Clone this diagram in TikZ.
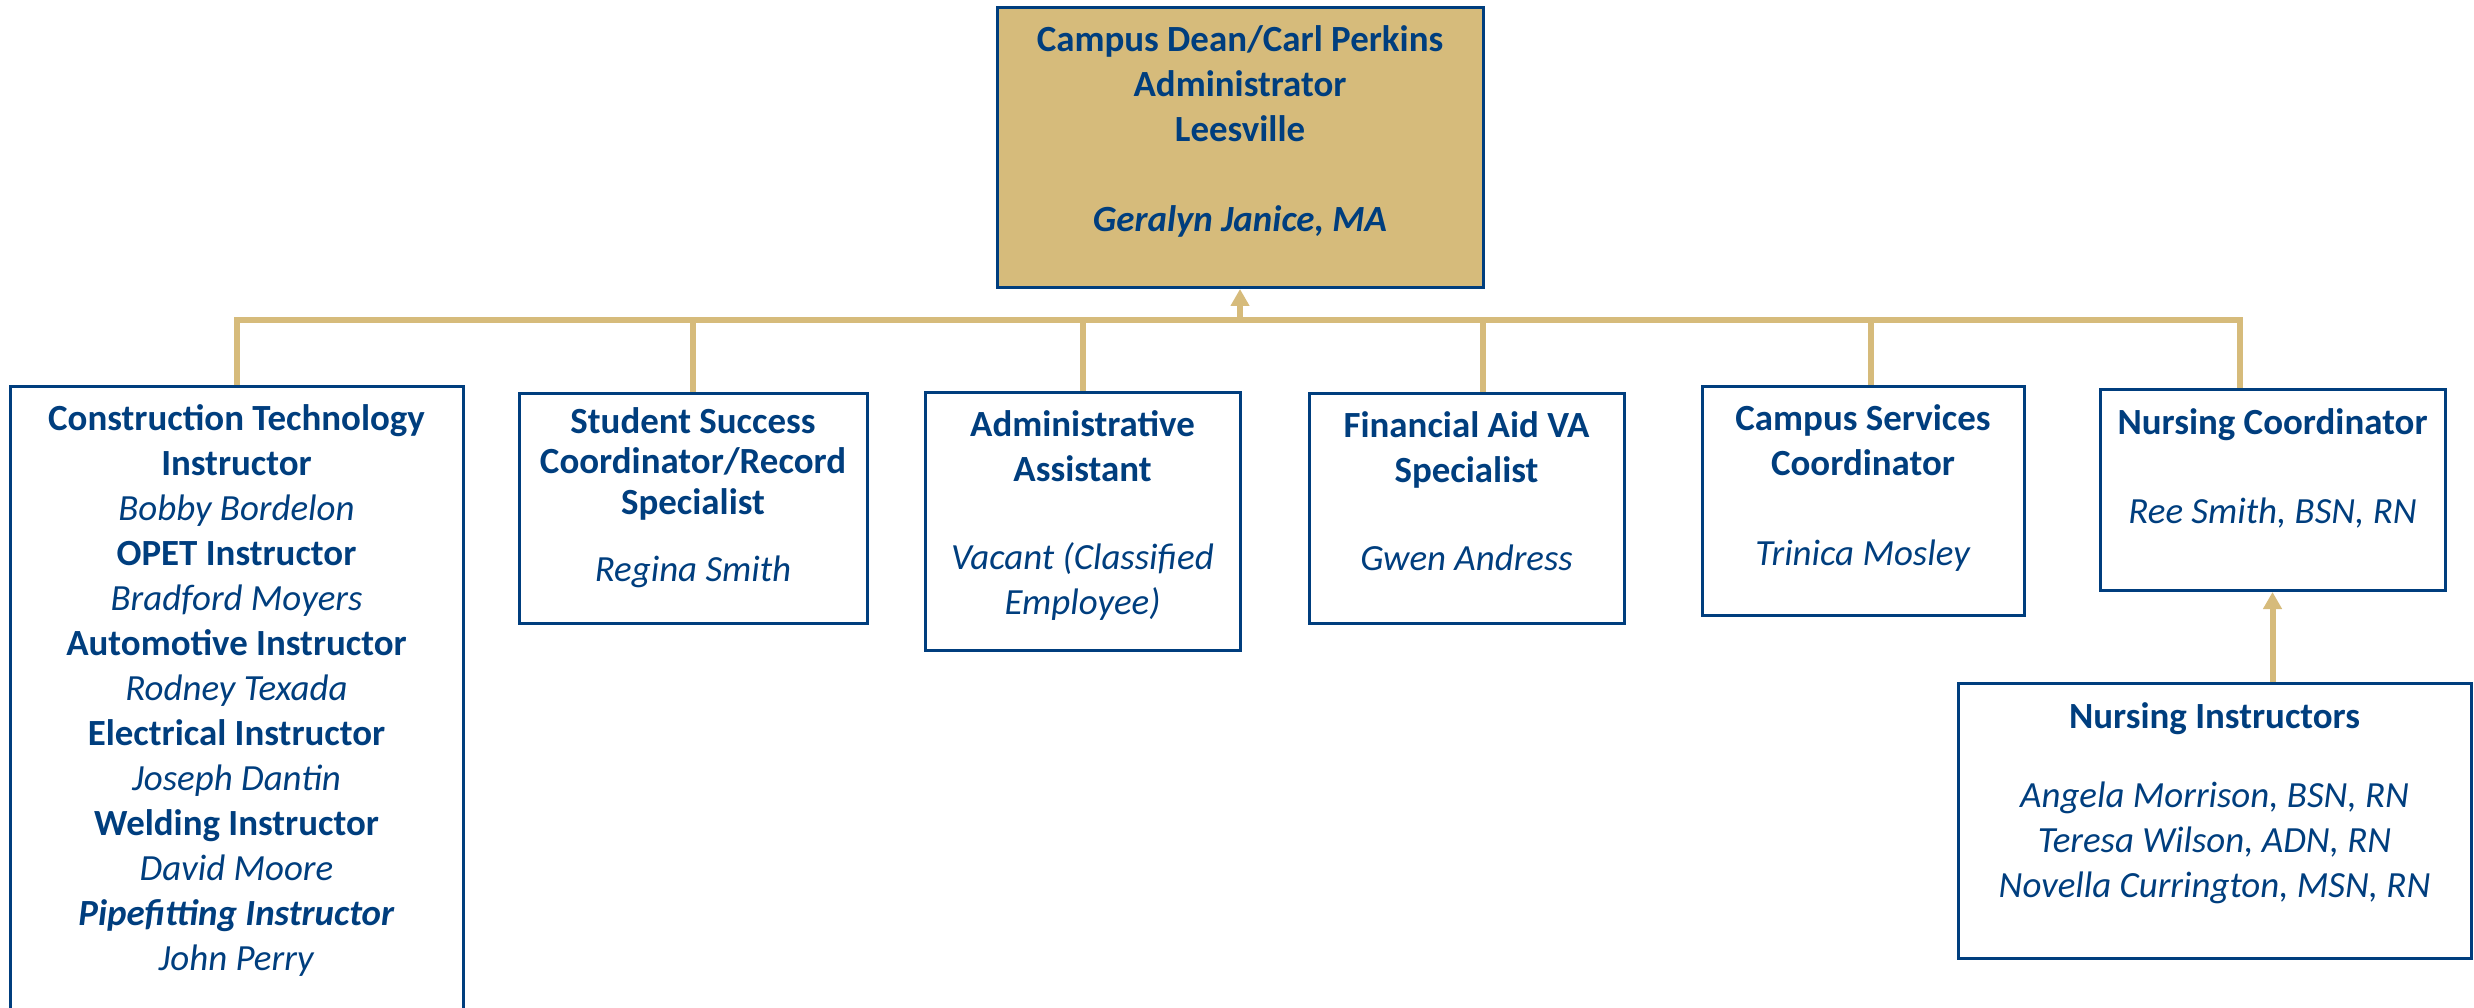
\documentclass[tikz,border=0pt]{standalone}
\usepackage{fontspec}
\setmainfont{Carlito}
\usetikzlibrary{arrows.meta}

\definecolor{navy}{RGB}{0,62,126}
\definecolor{gold}{RGB}{214,187,123}

\newcommand{\jobtitle}[1]{\textbf{#1}}
\newcommand{\person}[1]{\textit{#1}}

\tikzset{
  unit/.style={draw=navy, line width=0.03cm, text=navy, align=center, inner sep=0pt, anchor=north,
               font=\fontsize{10.5}{12.8}\selectfont},
  link/.style={draw=gold, line width=0.06cm},
  up/.style={link, -{Triangle[width=0.18cm,length=0.17cm]}},
}

\begin{document}
\begin{tikzpicture}
 \useasboundingbox (0,0) rectangle (24.74,-10.08);

 % dean on top
 \node[unit, fill=gold, minimum width=4.86cm, text height=2.24cm, text depth=0.56cm, name=dean] at (12.40,-0.06)
   {\jobtitle{Campus Dean/Carl Perkins}\\ \jobtitle{Administrator}\\ \jobtitle{Leesville}\\[12.8pt] \textbf{\textit{Geralyn Janice, MA}}};

 % second row
 \node[unit, minimum width=4.53cm, text height=5.84cm, text depth=0.73cm, name=ct] at (2.365,-3.85)
   {\jobtitle{Construction Technology}\\ \jobtitle{Instructor}\\ \person{Bobby Bordelon}\\
    \jobtitle{OPET Instructor}\\ \person{Bradford Moyers}\\ \jobtitle{Automotive Instructor}\\ \person{Rodney Texada}\\
    \jobtitle{Electrical Instructor}\\ \person{Joseph Dantin}\\ \jobtitle{Welding Instructor}\\ \person{David Moore}\\
    \textbf{\textit{Pipefitting Instructor}}\\ \person{John Perry}};
 \node[unit, minimum width=3.48cm, text height=1.88cm, text depth=0.42cm, name=ss,
       font=\fontsize{10.5}{11.6}\selectfont] at (6.93,-3.92)
   {\jobtitle{Student Success}\\ \jobtitle{Coordinator/Record}\\ \jobtitle{Specialist}\\[7.4pt] \person{Regina Smith}};
 \node[unit, minimum width=3.15cm, text height=2.22cm, text depth=0.36cm, name=aa] at (10.825,-3.91)
   {\jobtitle{Administrative}\\ \jobtitle{Assistant}\\[12.2pt] \person{Vacant (Classified}\\ \person{Employee)}};
 \node[unit, minimum width=3.15cm, text height=1.77cm, text depth=0.53cm, name=fa] at (14.665,-3.92)
   {\jobtitle{Financial Aid VA}\\ \jobtitle{Specialist}\\[12.2pt] \person{Gwen Andress}};
 \node[unit, minimum width=3.22cm, text height=1.79cm, text depth=0.50cm, name=cs] at (18.63,-3.85)
   {\jobtitle{Campus Services}\\ \jobtitle{Coordinator}\\[12.8pt] \person{Trinica Mosley}};
 \node[unit, minimum width=3.45cm, text height=1.34cm, text depth=0.67cm, name=nc] at (22.725,-3.88)
   {\jobtitle{Nursing Coordinator}\\[12.5pt] \person{Ree Smith, BSN, RN}};

 % under the nursing coordinator
 \node[unit, minimum width=5.13cm, text height=2.14cm, text depth=0.61cm, name=ni] at (22.145,-6.82)
   {\jobtitle{Nursing Instructors}\\[9.7pt] \person{Angela Morrison, BSN, RN}\\ \person{Teresa Wilson, ADN, RN}\\
    \person{Novella Currington, MSN, RN}};

 % connectors
 \coordinate (bar)   at (0,-3.20);
 \coordinate (faTop) at ([xshift=0.165cm]fa.north);
 \coordinate (csTop) at ([xshift=0.08cm]cs.north);
 \coordinate (ncTop) at ([xshift=-0.325cm]nc.north);
 \draw[link] (ct.north) |- (ncTop |- bar) -- (ncTop);
 \foreach \b in {ss,aa}
   \draw[link] (\b.north) -- (\b.north |- bar);
 \draw[link] (faTop) -- (faTop |- bar);
 \draw[link] (csTop) -- (csTop |- bar);
 \draw[up] (dean.south |- bar) -- (dean.south);
 \draw[up] (nc.south |- ni.north) -- (nc.south);
\end{tikzpicture}
\end{document}
